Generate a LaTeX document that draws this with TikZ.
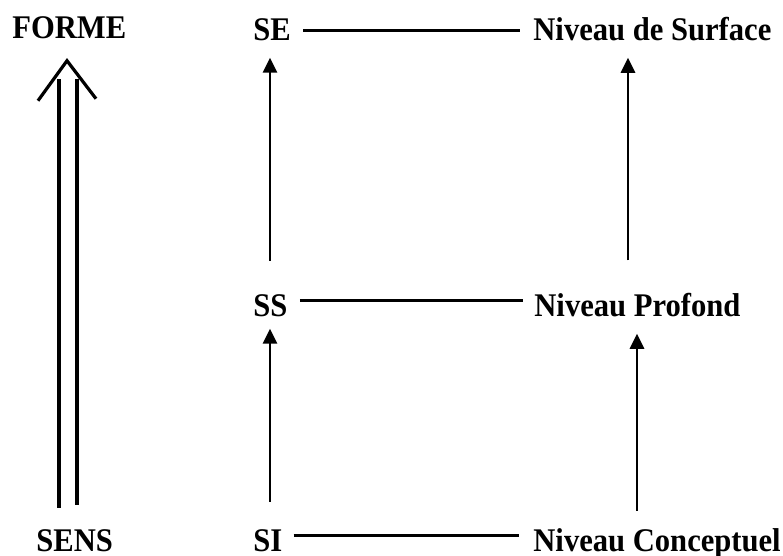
\documentclass[tikz,border=0pt]{standalone}
\usepackage{fontspec}
\usepackage{graphicx}
\setmainfont{Liberation Serif}
\usetikzlibrary{arrows.meta,calc}
\newcommand{\tallt}[1]{\scalebox{1}[1.08]{#1}}
\begin{document}
\begin{tikzpicture}[x=0.5pt,y=-0.5pt,
  lbl/.style={inner sep=0pt,anchor=base west,font=\fontsize{15.3}{18}\selectfont\bfseries},
  link/.style={line width=1.7pt},
  arr/.style={line width=1.4pt,-{Triangle[length=7.5pt,width=7pt]}},
  dbl/.style={line width=1.6pt}]
\useasboundingbox (0,0) rectangle (783,556);
\node[lbl] (forme) at (12,39) {\tallt{FORME}};
\node[lbl] (sens) at (36,551) {\tallt{SENS}};
\node[lbl] (se) at (253,41) {\tallt{SE}};
\node[lbl] (ss) at (253,316) {\tallt{SS}};
\node[lbl] (si) at (253,551) {\tallt{SI}};
\node[lbl] (surf) at (533,41) {\tallt{Niveau de Surface}};
\node[lbl] (prof) at (534,316) {\tallt{Niveau Profond}};
\node[lbl] (conc) at (533,551) {\tallt{Niveau Conceptuel}};
% horizontal links
\draw[link] ($(se.east)+(12,0)$) -- ($(se.east -| surf.west)+(-13,0)$);
\draw[link] ($(ss.east)+(12,-5)$) -- ($(ss.east -| prof.west)+(-11,-5)$);
\draw[link] ($(si.east)+(11,-5)$) -- ($(si.east -| conc.west)+(-14,-5)$);
% vertical arrows
\draw[arr] ($(ss.north west)+(17,-33)$) -- ($(se.south west)+(17,16)$);
\draw[arr] ($(si.north west)+(17,-27)$) -- ($(ss.south west)+(17,12)$);
\draw[arr] ($(prof.north west)+(94,-32)$) -- ($(surf.south west)+(95,16)$);
\draw[arr] ($(conc.north west)+(104,-17)$) -- ($(prof.south west)+(103,17)$);
% double arrow SENS -> FORME
\coordinate (apex) at ($(forme.south west)+(55,21)$);
\draw[dbl] ($(sens.north west)+(23,-21)$) -- ($(forme.south west)+(47,39)$);
\draw[dbl] ($(sens.north west)+(41,-24)$) -- ($(forme.south west)+(65,39)$);
\draw[dbl,line join=miter] ($(forme.south west)+(26,61)$) -- (apex) -- ($(forme.south west)+(84,59)$);
\end{tikzpicture}
\end{document}
